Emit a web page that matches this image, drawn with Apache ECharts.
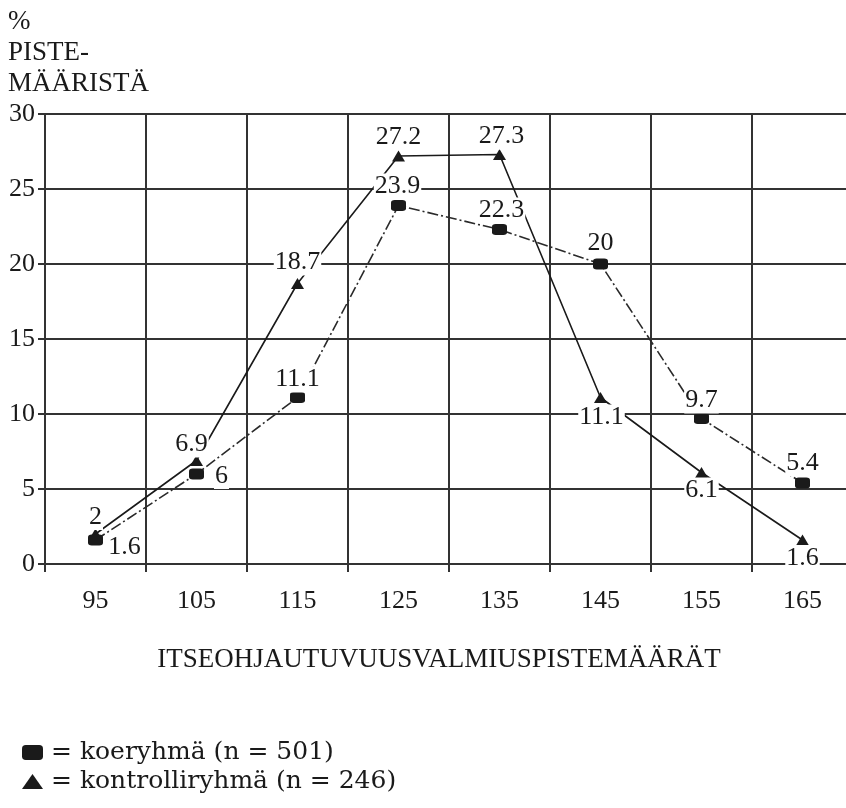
<!DOCTYPE html>
<html>
<head>
<meta charset="utf-8">
<script src="https://cdn.jsdelivr.net/npm/echarts@6/dist/echarts.min.js"></script>
<style>
  html, body { margin: 0; padding: 0; background: #fff; }
  #chart { width: 846px; height: 808px; }
</style>
</head>
<body>
<div id="chart"></div>
<script>
// Score classes on the x axis
const scoreClasses = ['95', '105', '115', '125', '135', '145', '155', '165'];
// Share of scores (%) per class
const koeryhma = [1.6, 6, 11.1, 23.9, 22.3, 20, 9.7, 5.4];
const kontrolliryhma = [2, 6.9, 18.7, 27.2, 27.3, 11.1, 6.1, 1.6];
const yTicks = [0, 5, 10, 15, 20, 25, 30];

const koeName = 'koeryhmä (n = 501)';
const kontrolliName = 'kontrolliryhmä (n = 246)';

// Where each value label sits relative to its point
const koeLabelOffsets = [[29, 7], [25, 2], [0, -18], [-1, -19], [2, -19], [0, -21], [0, -18], [0, -20]];
const kontrolliLabelOffsets = [[0, -17], [-5, -16], [0, -21], [0, -19], [2, -18], [1, 20], [0, 18], [0, 18]];

const FONT = '"Liberation Serif", "DejaVu Serif", serif';
const KEY_FONT = '"DejaVu Serif", "Liberation Serif", serif';
const INK = '#1a1a1a';
const GRID = '#333';

function withLabels(values, offsets) {
  return values.map((v, i) => ({
    value: v,
    label: { offset: offsets[i] }
  }));
}

const labelStyle = {
  show: true,
  position: 'inside',
  fontFamily: FONT,
  fontSize: 26,
  color: INK,
  backgroundColor: '#fff',
  padding: [0, 1],
  formatter: p => String(p.value)
};

function keyLegend(name, icon, top) {
  return {
    orient: 'vertical',
    left: 22,
    top: top,
    padding: 0,
    itemWidth: 21,
    itemHeight: 15,
    data: [{ name: name, icon: icon }],
    formatter: n => '= ' + n,
    textStyle: { fontFamily: KEY_FONT, fontSize: 25, color: INK, padding: [0, 0, 0, 3] },
    itemStyle: { color: INK },
    selectedMode: false
  };
}

const chart = echarts.init(document.getElementById('chart'), null, { renderer: 'canvas' });

chart.setOption({
  backgroundColor: '#fff',
  animation: false,
  title: {
    text: '%\nPISTE-\nMÄÄRISTÄ',
    left: 3,
    top: 1,
    textStyle: {
      fontFamily: FONT,
      fontSize: 27,
      fontWeight: 'normal',
      color: INK,
      lineHeight: 31
    }
  },
  // the plot runs past the right edge of the canvas, so its last column is cut off
  grid: { left: 45, top: 114, width: 808, height: 450, containLabel: false, outerBoundsMode: 'none' },
  xAxis: {
    type: 'category',
    data: scoreClasses,
    boundaryGap: true,
    name: 'ITSEOHJAUTUVUUSVALMIUSPISTEMÄÄRÄT',
    nameLocation: 'middle',
    nameGap: 82,
    nameTextStyle: { fontFamily: FONT, fontSize: 27, color: INK, padding: [0, 20, 0, 0] },
    axisLine: { lineStyle: { color: GRID, width: 2 } },
    axisTick: { show: true, length: 8, alignWithLabel: false, lineStyle: { color: GRID, width: 2 } },
    axisLabel: { fontFamily: FONT, fontSize: 26, color: INK, margin: 24 },
    splitLine: { show: true, interval: 0, lineStyle: { color: GRID, width: 2 } }
  },
  yAxis: {
    type: 'value',
    min: yTicks[0],
    max: yTicks[yTicks.length - 1],
    interval: 5,
    axisLine: { show: true, lineStyle: { color: GRID, width: 2 } },
    axisTick: { show: true, length: 7, lineStyle: { color: GRID, width: 2 } },
    axisLabel: { fontFamily: FONT, fontSize: 26, color: INK, margin: 10 },
    splitLine: { show: true, lineStyle: { color: GRID, width: 2 } }
  },
  legend: [
    keyLegend(koeName, 'roundRect', 740),
    keyLegend(kontrolliName, 'triangle', 769)
  ],
  series: [
    {
      name: kontrolliName,
      type: 'line',
      data: withLabels(kontrolliryhma, kontrolliLabelOffsets),
      symbol: 'triangle',
      symbolSize: [13, 11],
      lineStyle: { color: INK, width: 1.6, type: 'solid' },
      itemStyle: { color: INK },
      label: labelStyle,
      z: 3
    },
    {
      name: koeName,
      type: 'line',
      data: withLabels(koeryhma, koeLabelOffsets),
      symbol: 'roundRect',
      symbolSize: [15, 11],
      lineStyle: { color: '#2a2a2a', width: 1.6, type: [11, 3, 2, 3] },
      itemStyle: { color: INK },
      label: labelStyle,
      z: 4
    }
  ]
});
</script>
</body>
</html>
